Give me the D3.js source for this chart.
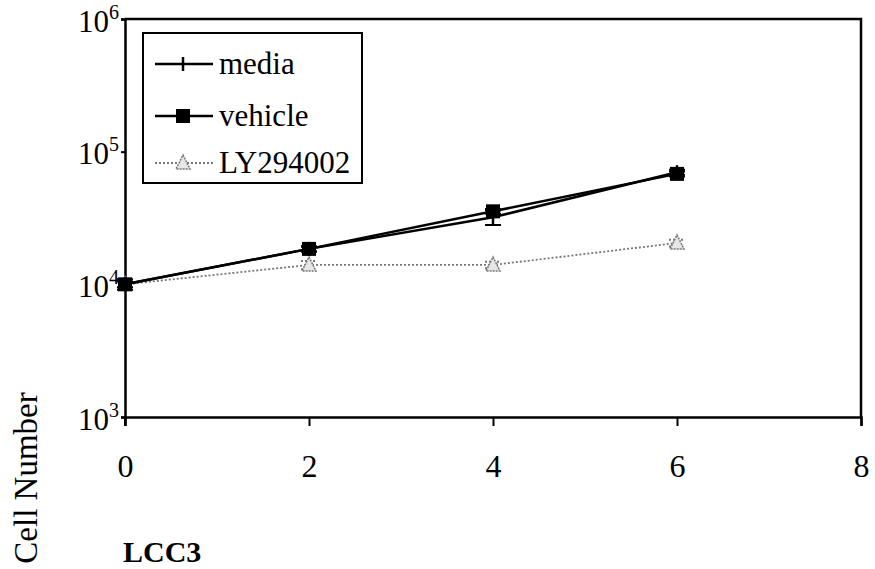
<!DOCTYPE html>
<html>
<head>
<meta charset="utf-8">
<script src="https://cdnjs.cloudflare.com/ajax/libs/d3/7.8.5/d3.min.js"></script>
<style>
  body { margin: 0; background: #fff; }
</style>
</head>
<body>
<div id="chart"></div>
<script>
// data
var days = [0, 2, 4, 6];
var media = [10000, 18500, 32000, 70000];
var mediaErr = [900, 800, 4000, 3000];
var vehicle = [10000, 18500, 35500, 68000];
var vehicleErr = [500, 800, 1500, 3000];
var ly = [10000, 14000, 14000, 20500];
var lyErr = [900, 1000, 800, 1200];
var xTicks = [0, 2, 4, 6, 8];
var yTicks = [1e3, 1e4, 1e5, 1e6];
var seriesNames = ["media", "vehicle", "LY294002"];

var serif = "'Liberation Serif', 'Times New Roman', Times, serif";

var svgWidth = 875;
var svgHeight = 569;
var margin = { top: 19, right: 14, bottom: 152, left: 125 };
var width = svgWidth - margin.left - margin.right;
var height = svgHeight - margin.top - margin.bottom;

var svg = d3.select("#chart")
    .append("svg")
    .attr("width", svgWidth)
    .attr("height", svgHeight)
    .style("font-family", serif);

var chartGroup = svg.append("g")
    .attr("transform", `translate(${margin.left}, ${margin.top})`);

var xScale = d3.scaleLinear().domain([0, 8]).range([0, width]);
var yScale = d3.scaleLog().domain([1e3, 1e6]).range([height, 0]);

// frame (top and right sides)
chartGroup.append("path")
    .attr("d", `M0,0H${width}V${height}`)
    .attr("fill", "none")
    .attr("stroke", "#000")
    .attr("stroke-width", 2.5);

// x axis
var bottomAxis = d3.axisBottom(xScale).tickValues(xTicks).tickSize(9).tickFormat("");
var xAxisG = chartGroup.append("g")
    .attr("transform", `translate(0, ${height})`)
    .call(bottomAxis);
xAxisG.select(".domain").attr("stroke-width", 2.5);
xAxisG.selectAll(".tick line").attr("stroke-width", 2);

xAxisG.selectAll(".tick").append("text")
    .attr("y", 60)
    .attr("text-anchor", "middle")
    .attr("fill", "#000")
    .style("font-family", serif)
    .style("font-size", "32px")
    .text(d => d);

// y axis
var leftAxis = d3.axisLeft(yScale).tickValues(yTicks).tickSize(4).tickFormat("");
var yAxisG = chartGroup.append("g").call(leftAxis);
yAxisG.select(".domain").attr("stroke-width", 2.5);
yAxisG.selectAll(".tick line").attr("stroke-width", 2);

// extend the y axis a bit below the x axis like the original
chartGroup.append("line")
    .attr("x1", 0).attr("x2", 0)
    .attr("y1", height).attr("y2", height + 9)
    .attr("stroke", "#000").attr("stroke-width", 2);

yAxisG.selectAll(".tick").each(function(d) {
    var t = d3.select(this).append("text")
        .attr("x", -6)
        .attr("y", 12)
        .attr("text-anchor", "end")
        .attr("fill", "#000")
        .style("font-family", serif)
        .style("font-size", "31px");
    t.append("tspan").text("10");
    t.append("tspan")
        .attr("dy", -13)
        .style("font-size", "20px")
        .text(Math.round(Math.log10(d)));
});

// series
var series = [
    { name: "media", values: media, err: mediaErr, color: "#000", dash: null, width: 2.5, marker: "plus" },
    { name: "vehicle", values: vehicle, err: vehicleErr, color: "#000", dash: null, width: 2.5, marker: "square" },
    { name: "LY294002", values: ly, err: lyErr, color: "#777", dash: "2,2", width: 1.8, marker: "triangle" }
];

var line = d3.line()
    .x(d => xScale(d[0]))
    .y(d => yScale(d[1]));

function drawMarker(g, type, color) {
    if (type === "square") {
        g.append("rect")
            .attr("x", -7).attr("y", -7).attr("width", 14).attr("height", 14)
            .attr("fill", "#000");
    } else if (type === "plus") {
        g.append("line")
            .attr("x1", 0).attr("x2", 0).attr("y1", -7).attr("y2", 7)
            .attr("stroke", "#000").attr("stroke-width", 2.5);
    } else {
        g.append("path")
            .attr("d", "M0,-8L7,6H-7Z")
            .attr("fill", "#e6e6e6")
            .attr("stroke", color)
            .attr("stroke-dasharray", "2,1")
            .attr("stroke-width", 1.5);
    }
}

// draw LY first so black series sit on top
series.slice().reverse().forEach(function(s) {
    var pts = days.map((d, i) => [d, s.values[i]]);
    var g = chartGroup.append("g");

    // error bars
    g.selectAll(".err")
        .data(pts)
        .enter()
        .append("path")
        .attr("d", function(d, i) {
            var x = xScale(d[0]);
            var y1 = yScale(d[1] - s.err[i]);
            var y2 = yScale(d[1] + s.err[i]);
            return `M${x},${y1}V${y2}M${x - 8},${y1}H${x + 8}M${x - 8},${y2}H${x + 8}`;
        })
        .attr("fill", "none")
        .attr("stroke", s.color)
        .attr("stroke-width", 2)
        .attr("stroke-dasharray", s.dash);

    g.append("path")
        .datum(pts)
        .attr("d", line)
        .attr("fill", "none")
        .attr("stroke", s.color)
        .attr("stroke-width", s.width)
        .attr("stroke-dasharray", s.dash);

    g.selectAll(".mk")
        .data(pts)
        .enter()
        .append("g")
        .attr("transform", d => `translate(${xScale(d[0])}, ${yScale(d[1])})`)
        .each(function() { drawMarker(d3.select(this), s.marker, s.color); });
});

// legend
var legend = svg.append("g").attr("transform", "translate(143, 33)");
legend.append("rect")
    .attr("width", 219).attr("height", 150)
    .attr("fill", "#fff")
    .attr("stroke", "#000")
    .attr("stroke-width", 2);

var rowY = [31, 83, 130];
series.forEach(function(s, i) {
    var row = legend.append("g").attr("transform", `translate(0, ${rowY[i]})`);
    row.append("line")
        .attr("x1", 12).attr("x2", 70)
        .attr("stroke", s.color)
        .attr("stroke-width", s.width)
        .attr("stroke-dasharray", s.dash);
    var m = row.append("g").attr("transform", "translate(40, 0)");
    drawMarker(m, s.marker, s.color);
    row.append("text")
        .attr("x", 76)
        .attr("y", 10)
        .attr("fill", "#000")
        .style("font-family", serif)
        .style("font-size", "31px")
        .text(seriesNames[i]);
});

// axis titles
svg.append("text")
    .attr("transform", "translate(37, 478) rotate(-90)")
    .attr("text-anchor", "middle")
    .attr("fill", "#000")
    .style("font-family", serif)
    .style("font-size", "33px")
    .text("Cell Number");

svg.append("text")
    .attr("x", 123)
    .attr("y", 562)
    .attr("fill", "#000")
    .style("font-family", serif)
    .style("font-size", "30px")
    .style("font-weight", "bold")
    .text("LCC3");
</script>
</body>
</html>
